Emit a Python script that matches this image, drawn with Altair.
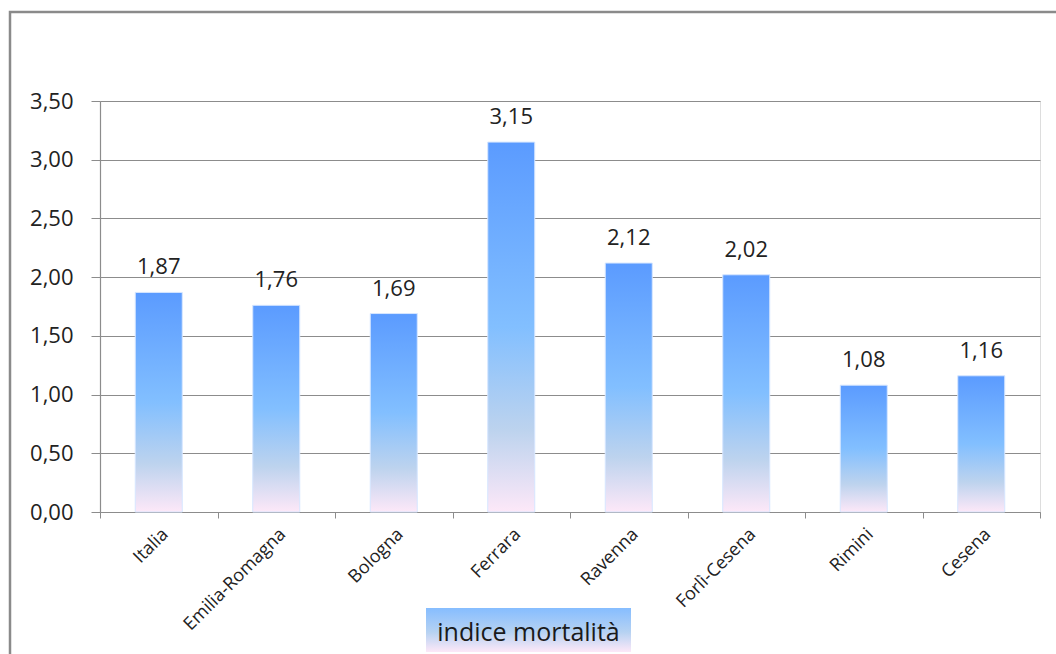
import altair as alt
import pandas as pd

# Mortality index by area
areas = ["Italia", "Emilia-Romagna", "Bologna", "Ferrara", "Ravenna",
         "Forlì-Cesena", "Rimini", "Cesena"]
values = [1.87, 1.76, 1.69, 3.15, 2.12, 2.02, 1.08, 1.16]
y_ticks = [0.0, 0.5, 1.0, 1.5, 2.0, 2.5, 3.0, 3.5]
series_name = "indice mortalità"

df = pd.DataFrame({"area": areas, "valore": values})

FONT = "Open Sans"
GRID = "#8c8c8c"

bar_fill = alt.LinearGradient(
    gradient="linear", x1=0, y1=0, x2=0, y2=1,
    stops=[
        alt.GradientStop(offset=0.0, color="#5b9bff"),
        alt.GradientStop(offset=0.5, color="#82bfff"),
        alt.GradientStop(offset=0.78, color="#bdd3ee"),
        alt.GradientStop(offset=1.0, color="#fde8f8"),
    ],
)
legend_fill = alt.LinearGradient(
    gradient="linear", x1=0, y1=0, x2=0, y2=1,
    stops=[
        alt.GradientStop(offset=0.0, color="#86bdff"),
        alt.GradientStop(offset=0.55, color="#b6d2f2"),
        alt.GradientStop(offset=1.0, color="#fde8f8"),
    ],
)

x_enc = alt.X(
    "area:N", sort=areas, title=None,
    scale=alt.Scale(paddingInner=0, paddingOuter=0),
    axis=alt.Axis(
        labelAngle=-45, labelFont=FONT, labelFontSize=18, labelColor="#222222",
        labelPadding=7, tickBand="extent", tickSize=6, tickColor=GRID,
        domainColor=GRID, domainWidth=1.2, grid=False, labelOverlap=False,
    ),
)
y_enc = alt.Y(
    "valore:Q", title=None,
    scale=alt.Scale(domain=[0, 3.5], nice=False),
    axis=alt.Axis(
        values=y_ticks,
        labelExpr="replace(format(datum.value, '.2f'), '.', ',')",
        labelFont=FONT, labelFontSize=22, labelColor="#222222",
        labelPadding=18, tickSize=9, tickColor=GRID, domainColor=GRID,
        domainWidth=1.2, gridColor=GRID, gridWidth=1.2,
    ),
)

base = alt.Chart(df)

bars = base.mark_bar(
    width=alt.RelativeBandSize(0.4), color=bar_fill,
    stroke="#d6e6ff", strokeWidth=1,
).encode(x=x_enc, y=y_enc)

labels = base.transform_calculate(
    etichetta="replace(format(datum.valore, '.2f'), '.', ',')"
).mark_text(
    font=FONT, fontSize=22, color="#222222", baseline="alphabetic", dy=-18,
).encode(x=alt.X("area:N", sort=areas), y="valore:Q", text="etichetta:N")

# outer frame of the chart area (top and left edges visible)
frame = alt.Chart(pd.DataFrame({"k": [0]})).mark_rect(
    fill=None, stroke="#8a8a8a", strokeWidth=2.5,
).encode(
    x=alt.value(-90), x2=alt.value(1000), y=alt.value(-89), y2=alt.value(700),
)

legend_box = alt.Chart(pd.DataFrame({"k": [0]})).mark_rect(
    color=legend_fill,
).encode(
    x=alt.value(326), x2=alt.value(531), y=alt.value(507), y2=alt.value(551),
)
legend_text = alt.Chart(pd.DataFrame({"t": [series_name]})).mark_text(
    font=FONT, fontSize=25, color="#1a1a1a", baseline="alphabetic", align="center",
).encode(x=alt.value(428.5), y=alt.value(540), text="t:N")

chart = alt.layer(frame, bars, labels, legend_box, legend_text).properties(
    width=940, height=411,
    autosize=alt.AutoSizeParams(type="none"),
    padding={"left": 100, "top": 101, "right": 16, "bottom": 142},
).configure_view(stroke=None).configure(background="white")

chart.save("out.html", embed_options={"renderer": "svg", "actions": False})
